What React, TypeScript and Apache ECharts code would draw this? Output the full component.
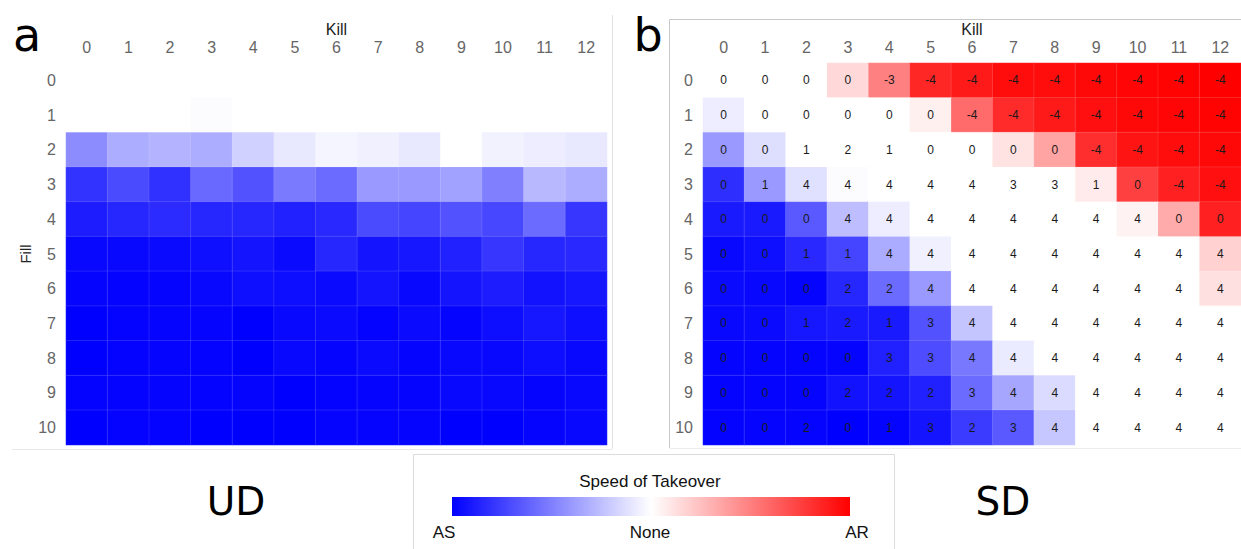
import React, { useEffect, useRef } from 'react';
import * as echarts from 'echarts';

const kills = ['0', '1', '2', '3', '4', '5', '6', '7', '8', '9', '10', '11', '12'];
const fills = ['0', '1', '2', '3', '4', '5', '6', '7', '8', '9', '10'];

// Speed of takeover: negative = AS (blue), 0 = None (white), positive = AR (red)
const udSpeed = [
  [0, 0, 0, 0, 0, 0, 0, 0, 0, 0, 0, 0, 0],
  [0, 0, 0, -1, 0, 0, 0, 0, 0, 0, 0, 0, 0],
  [-45, -32, -30, -32, -18, -9, -4, -6, -9, 0, -5, -7, -9],
  [-80, -71, -81, -59, -68, -52, -58, -40, -40, -37, -50, -28, -32],
  [-89, -85, -83, -85, -85, -87, -84, -71, -73, -68, -72, -58, -79],
  [-97, -97, -96, -94, -92, -96, -85, -92, -91, -87, -79, -85, -84],
  [-98, -99, -98, -97, -94, -95, -96, -92, -97, -92, -89, -93, -91],
  [-100, -99, -98, -98, -100, -97, -96, -99, -96, -98, -95, -91, -94],
  [-100, -99, -98, -99, -100, -97, -98, -96, -98, -97, -97, -95, -97],
  [-99, -99, -98, -99, -98, -100, -99, -98, -98, -97, -97, -98, -97],
  [-100, -99, -99, -100, -100, -100, -98, -98, -98, -100, -100, -98, -97],
];

const sdSpeed = [
  [0, 0, 0, 15, 50, 85, 90, 95, 95, 97, 98, 99, 100],
  [-7, 0, 0, 0, 0, 6, 58, 83, 90, 94, 97, 98, 99],
  [-40, -13, 0, 0, 0, 0, 0, 11, 36, 82, 92, 95, 97],
  [-82, -40, -12, -1, 0, 0, 0, 0, 0, 8, 75, 87, 94],
  [-90, -90, -65, -26, -7, 0, 0, 0, 0, 0, 5, 33, 87],
  [-97, -94, -84, -73, -33, -6, 0, 0, 0, 0, 0, 0, 18],
  [-96, -97, -98, -85, -58, -40, 0, 0, 0, 0, 0, 0, 12],
  [-97, -96, -91, -90, -90, -68, -23, 0, 0, 0, 0, 0, 0],
  [-98, -98, -98, -98, -87, -70, -53, -8, 0, 0, 0, 0, 0],
  [-99, -98, -98, -93, -92, -87, -58, -35, -14, 0, 0, 0, 0],
  [-99, -98, -98, -100, -98, -92, -77, -65, -22, 0, 0, 0, 0],
];

const sdLabels = [
  [0, 0, 0, 0, -3, -4, -4, -4, -4, -4, -4, -4, -4],
  [0, 0, 0, 0, 0, 0, -4, -4, -4, -4, -4, -4, -4],
  [0, 0, 1, 2, 1, 0, 0, 0, 0, -4, -4, -4, -4],
  [0, 1, 4, 4, 4, 4, 4, 3, 3, 1, 0, -4, -4],
  [0, 0, 0, 4, 4, 4, 4, 4, 4, 4, 4, 0, 0],
  [0, 0, 1, 1, 4, 4, 4, 4, 4, 4, 4, 4, 4],
  [0, 0, 0, 2, 2, 4, 4, 4, 4, 4, 4, 4, 4],
  [0, 0, 1, 2, 1, 3, 4, 4, 4, 4, 4, 4, 4],
  [0, 0, 0, 0, 3, 3, 4, 4, 4, 4, 4, 4, 4],
  [0, 0, 0, 2, 2, 2, 3, 4, 4, 4, 4, 4, 4],
  [0, 0, 2, 0, 1, 3, 2, 3, 4, 4, 4, 4, 4],
];

const speedColors = ['#0000ff', '#ffffff', '#ff0000'];
const legendTitle = 'Speed of Takeover';
const legendTicks = ['AS', 'None', 'AR'];
const panelLetters = ['a', 'b'];
const panelNames = ['UD', 'SD'];

function toCells(speed: number[][], labels?: number[][]) {
  const out: any[] = [];
  speed.forEach((row, f) =>
    row.forEach((v, k) => {
      out.push(labels ? [k, f, v, labels[f][k]] : [k, f, v]);
    })
  );
  return out;
}

const FONT = "'Liberation Sans', Arial, sans-serif";
const BIG = "'DejaVu Sans', sans-serif";

function xAxis(gridIndex: number) {
  return {
    type: 'category',
    gridIndex,
    data: kills,
    position: 'top',
    axisLine: { show: false },
    axisTick: { show: false },
    splitLine: { show: false },
    axisLabel: { color: '#666', fontSize: 16, margin: 8, fontFamily: FONT },
    name: 'Kill',
    nameLocation: 'middle',
    nameGap: 26,
    nameMoveOverlap: false,
    nameTextStyle: { color: '#222', fontSize: 16, fontFamily: FONT },
  };
}

function yAxis(gridIndex: number, withName: boolean) {
  return {
    type: 'category',
    gridIndex,
    data: fills,
    inverse: true,
    axisLine: { show: false },
    axisTick: { show: false },
    splitLine: { show: false },
    axisLabel: { color: '#666', fontSize: 16, margin: 10, fontFamily: FONT },
    name: withName ? 'Fill' : '',
    nameLocation: 'middle',
    nameGap: 33,
    nameRotate: 90,
    nameTextStyle: { color: '#222', fontSize: 15, fontFamily: FONT },
  };
}

export default function App() {
  const ref = useRef<HTMLDivElement>(null);
  useEffect(() => {
    if (!ref.current) return;
    const chart = echarts.init(ref.current, undefined, { renderer: 'svg' });
    const gradient = new echarts.graphic.LinearGradient(0, 0, 1, 0, [
      { offset: 0, color: speedColors[0] },
      { offset: 0.5, color: speedColors[1] },
      { offset: 1, color: speedColors[2] },
    ]);
    chart.setOption({
      animation: false,
      backgroundColor: '#ffffff',
      grid: [
        { left: 66, top: 63, width: 541, height: 382 },
        { left: 703, top: 63, width: 541, height: 382 },
      ],
      xAxis: [xAxis(0), xAxis(1)],
      yAxis: [yAxis(0, true), yAxis(1, false)],
      visualMap: {
        type: 'continuous',
        show: false,
        min: -100,
        max: 100,
        dimension: 2,
        seriesIndex: [0, 1],
        inRange: { color: speedColors },
      },
      series: [
        {
          type: 'heatmap',
          xAxisIndex: 0,
          yAxisIndex: 0,
          data: toCells(udSpeed),
          itemStyle: { borderColor: 'rgba(255,255,255,0.12)', borderWidth: 1 },
          emphasis: { disabled: true },
        },
        {
          type: 'heatmap',
          xAxisIndex: 1,
          yAxisIndex: 1,
          data: toCells(sdSpeed, sdLabels),
          itemStyle: { borderColor: 'rgba(255,255,255,0.12)', borderWidth: 1 },
          label: {
            show: true,
            formatter: (p: any) => String(p.value[3]),
            color: '#1a1a1a',
            fontSize: 12,
            fontFamily: FONT,
          },
          emphasis: { disabled: true },
        },
      ],
      graphic: [
        { type: 'line', shape: { x1: 612.5, y1: 15, x2: 612.5, y2: 449 }, style: { stroke: '#e2e2e2', lineWidth: 1 } },
        { type: 'line', shape: { x1: 12, y1: 449.5, x2: 612, y2: 449.5 }, style: { stroke: '#e8e8e8', lineWidth: 1 } },
        { type: 'line', shape: { x1: 669.5, y1: 19.5, x2: 1241, y2: 19.5 }, style: { stroke: '#c8c8c8', lineWidth: 1 } },
        { type: 'line', shape: { x1: 669.5, y1: 19.5, x2: 669.5, y2: 448 }, style: { stroke: '#c8c8c8', lineWidth: 1 } },
        { type: 'line', shape: { x1: 669.5, y1: 448.5, x2: 1241, y2: 448.5 }, style: { stroke: '#ececec', lineWidth: 1 } },
        { type: 'rect', shape: { x: 413.5, y: 454.5, width: 481, height: 110 }, style: { fill: 'none', stroke: '#dcdcdc', lineWidth: 1 } },
        { type: 'text', x: 27, y: 35, style: { text: panelLetters[0], font: `46px ${BIG}`, fill: '#000', align: 'center', verticalAlign: 'middle' } },
        { type: 'text', x: 648, y: 35, style: { text: panelLetters[1], font: `46px ${BIG}`, fill: '#000', align: 'center', verticalAlign: 'middle' } },
        { type: 'text', x: 236, y: 501, style: { text: panelNames[0], font: `39px ${BIG}`, fill: '#000', align: 'center', verticalAlign: 'middle' } },
        { type: 'text', x: 1003, y: 501, style: { text: panelNames[1], font: `39px ${BIG}`, fill: '#000', align: 'center', verticalAlign: 'middle' } },
        { type: 'text', x: 650, y: 481, style: { text: legendTitle, font: `17px ${FONT}`, fill: '#111', align: 'center', verticalAlign: 'middle' } },
        { type: 'rect', shape: { x: 452, y: 497, width: 398, height: 19 }, style: { fill: gradient } },
        { type: 'text', x: 444, y: 532, style: { text: legendTicks[0], font: `17px ${FONT}`, fill: '#111', align: 'center', verticalAlign: 'middle' } },
        { type: 'text', x: 650, y: 532, style: { text: legendTicks[1], font: `17px ${FONT}`, fill: '#111', align: 'center', verticalAlign: 'middle' } },
        { type: 'text', x: 857, y: 532, style: { text: legendTicks[2], font: `17px ${FONT}`, fill: '#111', align: 'center', verticalAlign: 'middle' } },
      ],
    });
    return () => chart.dispose();
  }, []);
  return <div ref={ref} style={{ position: 'absolute', left: 0, top: 0, width: 1241, height: 549 }} />;
}
